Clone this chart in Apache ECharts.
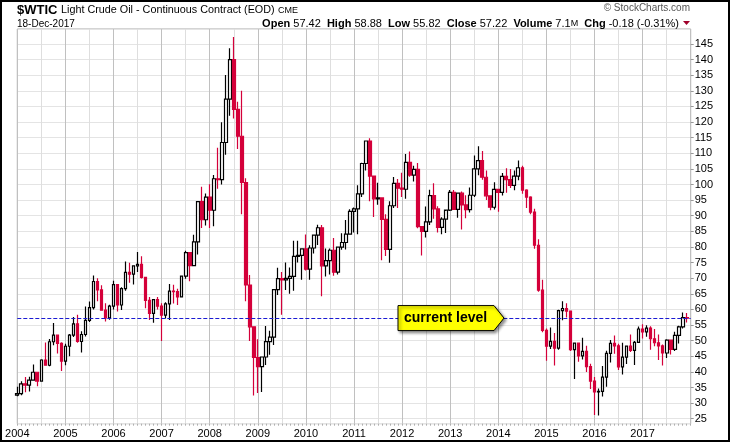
<!DOCTYPE html>
<html><head><meta charset="utf-8">
<script src="https://cdn.jsdelivr.net/npm/echarts@6/dist/echarts.min.js"></script>
<style>html,body{margin:0;padding:0;background:#fff}#c{width:730px;height:442px}</style>
</head><body><div id="c"></div>
<script>
const years = ['2004','2005','2006','2007','2008','2009','2010','2011','2012','2013','2014','2015','2016','2017'];

const opens = [
 32.52,33.05,36.16,35.76,37.38,39.88,37.05,43.80,42.12,49.64,51.76,49.13,
 43.45,48.20,51.75,55.40,49.72,51.97,56.50,60.57,68.94,66.24,59.76,57.32,
 61.04,67.92,61.41,66.63,71.88,71.29,73.93,74.40,70.26,62.91,58.73,63.13,
 61.05,58.14,61.79,65.87,65.71,64.01,70.68,78.21,74.04,81.66,94.53,88.71,
 95.98,91.75,101.84,101.58,113.46,127.35,140.00,124.08,115.46,100.64,67.81,54.43,
 44.60,41.68,44.76,49.66,51.12,66.31,69.89,69.45,69.96,70.61,77.00,77.28,
 79.36,72.89,79.66,83.76,86.15,73.97,75.63,78.95,71.92,79.97,81.43,84.11,
 91.38,92.19,96.97,106.72,113.93,102.70,95.42,95.70,88.81,79.20,93.19,100.36,
 98.83,98.48,107.07,103.02,104.87,86.53,84.96,88.06,96.47,92.19,86.24,88.91,
 91.82,97.49,92.05,97.23,93.46,91.97,96.56,105.03,107.65,102.33,96.38,92.72,
 98.42,97.49,102.59,101.58,99.74,102.71,105.37,98.17,95.96,91.16,80.54,66.15,
 53.27,48.24,49.76,47.60,59.63,60.30,59.47,47.12,49.20,45.09,46.59,41.65,
 37.04,33.62,33.75,38.34,45.92,49.10,48.33,41.60,44.70,48.24,46.86,49.44,
 53.72,52.81,54.01,50.60,49.33,48.32,46.04,50.17,47.23,51.67,54.38,57.40
];
const highs = [
 35.20,37.00,38.35,38.40,42.33,40.00,44.00,49.40,50.50,55.67,52.00,49.50,
 49.00,52.10,57.60,58.28,53.00,60.95,62.50,70.85,70.00,67.75,62.00,61.50,
 69.20,68.10,67.10,75.35,74.95,73.93,78.40,77.00,70.30,64.00,63.20,64.00,
 62.00,62.30,68.10,67.90,66.60,70.70,78.77,78.40,83.90,94.53,99.29,97.10,
 100.09,103.05,111.80,119.93,135.09,143.67,147.27,126.50,130.00,102.00,71.00,54.60,
 50.47,44.80,54.66,53.20,66.45,73.38,72.00,75.00,73.40,82.00,82.00,79.60,
 83.95,80.51,83.85,87.15,87.00,79.50,79.50,82.90,80.00,84.40,88.63,92.06,
 92.60,99.80,106.95,114.00,114.83,102.90,100.60,95.70,90.50,94.65,102.44,101.77,
 103.74,109.77,110.55,106.00,106.90,86.60,92.94,98.29,100.42,93.00,89.50,91.50,
 98.24,98.24,97.35,97.80,96.55,99.06,109.32,112.24,110.74,104.50,96.30,100.75,
 98.60,103.70,105.22,104.99,104.50,107.68,106.00,98.50,96.20,92.20,82.50,69.50,
 53.85,54.24,52.48,59.90,62.58,61.95,59.69,49.30,49.20,50.92,48.36,42.58,
 38.39,34.69,41.90,46.78,50.21,51.67,49.00,49.36,48.35,51.93,49.87,54.51,
 55.24,54.94,54.61,53.76,52.00,48.75,50.43,50.22,52.86,54.77,59.05,58.88
];
const lows = [
 32.20,32.50,33.50,33.75,37.20,35.40,37.00,42.00,41.80,48.50,45.90,40.25,
 42.12,45.00,51.20,49.30,46.20,51.30,56.00,60.00,62.60,59.60,56.10,56.70,
 60.00,59.30,59.80,66.00,68.50,68.00,72.00,69.90,60.40,56.60,55.70,60.00,
 49.90,57.10,56.60,61.90,61.40,63.80,69.80,69.00,73.80,77.60,86.10,86.90,
 86.11,86.60,98.65,100.00,109.50,122.00,121.10,111.34,90.51,62.61,49.90,32.40,
 33.20,33.55,42.20,45.50,48.60,64.60,58.32,66.20,65.05,66.00,75.00,69.50,
 72.43,69.50,77.90,80.60,64.24,70.50,71.20,70.76,71.20,79.10,79.15,84.00,
 84.60,84.10,96.00,104.50,94.63,89.60,93.50,75.71,77.10,74.95,92.50,92.50,
 96.00,95.44,102.50,101.00,86.00,77.28,83.00,87.00,89.00,84.60,84.05,84.50,
 91.50,92.00,89.33,85.61,89.20,91.00,96.00,103.00,101.50,95.00,91.77,92.00,
 91.24,96.50,97.37,98.90,98.20,101.40,97.05,92.50,90.44,79.44,65.69,52.70,
 43.58,47.36,42.03,47.05,56.51,57.42,46.68,37.75,43.21,43.97,39.97,34.53,
 26.19,26.05,32.10,35.24,43.03,45.83,40.57,39.19,42.52,46.38,42.20,49.37,
 50.71,51.22,47.09,48.18,43.76,42.05,44.46,45.58,46.71,49.10,53.85,55.82
];
const closes = [
 33.05,36.16,35.76,37.38,39.88,37.05,43.80,42.12,49.64,51.76,49.13,43.45,
 48.20,51.75,55.40,49.72,51.97,56.50,60.57,68.94,66.24,59.76,57.32,61.04,
 67.92,61.41,66.63,71.88,71.29,73.93,74.40,70.26,62.91,58.73,63.13,61.05,
 58.14,61.79,65.87,65.71,64.01,70.68,78.21,74.04,81.66,94.53,88.71,95.98,
 91.75,101.84,101.58,113.46,127.35,140.00,124.08,115.46,100.64,67.81,54.43,44.60,
 41.68,44.76,49.66,51.12,66.31,69.89,69.45,69.96,70.61,77.00,77.28,79.36,
 72.89,79.66,83.76,86.15,73.97,75.63,78.95,71.92,79.97,81.43,84.11,91.38,
 92.19,96.97,106.72,113.93,102.70,95.42,95.70,88.81,79.20,93.19,100.36,98.83,
 98.48,107.07,103.02,104.87,86.53,84.96,88.06,96.47,92.19,86.24,88.91,91.82,
 97.49,92.05,97.23,93.46,91.97,96.56,105.03,107.65,102.33,96.38,92.72,98.42,
 97.49,102.59,101.58,99.74,102.71,105.37,98.17,95.96,91.16,80.54,66.15,53.27,
 48.24,49.76,47.60,59.63,60.30,59.47,47.12,49.20,45.09,46.59,41.65,37.04,
 33.62,33.75,38.34,45.92,49.10,48.33,41.60,44.70,48.24,46.86,49.44,53.72,
 52.81,54.01,50.60,49.33,48.32,46.04,50.17,47.23,51.67,54.38,57.40,57.22
];

const lastClose = closes[closes.length - 1];
const months = [];
years.forEach(y => { for (let m = 1; m <= 12; m++) months.push(y + '-' + String(m).padStart(2, '0')); });
months.push('2018-01'); // closing edge of the time axis
const candles = opens.map((o, i) => [o, closes[i], lows[i], highs[i]]);

const FONT = 'Liberation Sans, Arial, sans-serif';
const RED = '#d4003a';
const chart = echarts.init(document.getElementById('c'), null, {renderer: 'canvas'});

chart.setOption({
  animation: false,
  backgroundColor: '#fff',
  grid: {left: 17.3, right: 39.3, top: 29, bottom: 18.3, show: true, borderColor: '#a8a8a8', borderWidth: 1, containLabel: false},
  xAxis: {
    type: 'category', data: months, boundaryGap: false,
    axisLine: {show: false},
    axisTick: {show: true, interval: 0, length: 2, lineStyle: {color: '#b0b0b0'}},
    axisLabel: {
      interval: (i) => i % 12 === 0 && i < months.length - 1,
      formatter: (v) => v.slice(0, 4),
      color: '#000', fontSize: 11, fontFamily: FONT, margin: 5
    },
    splitLine: {show: true, interval: (i) => i % 6 === 0, lineStyle: {color: ['#c0c0c0', '#dedede'], width: 1}}
  },
  yAxis: {
    type: 'value', position: 'right', min: 23.4, max: 149.8, splitNumber: 25,
    axisLine: {show: false},
    axisTick: {show: true, length: 3, lineStyle: {color: '#999'}},
    axisLabel: {showMinLabel: false, showMaxLabel: false, color: '#000', fontSize: 11, fontFamily: FONT, margin: 4},
    splitLine: {show: true, lineStyle: {color: '#e4e4e4', width: 1}}
  },
  series: [{
    type: 'candlestick', data: candles, barWidth: 3.2,
    itemStyle: {color: '#ffffff', color0: RED, borderColor: '#000000', borderColor0: RED, borderWidth: 1.2},
    markLine: {
      symbol: 'none', silent: true, label: {show: false},
      lineStyle: {color: '#1a1ad2', type: [4, 2], width: 1},
      data: [{yAxis: lastClose}]
    }
  }],
  graphic: [
    {type: 'rect', id: 'frame', shape: {x: 1, y: 1, width: 728, height: 440}, style: {fill: null, stroke: '#000', lineWidth: 2}, z: 100},
    {type: 'text', id: 't1', x: 17, y: 10, style: {text: '$WTIC', font: 'bold 13px ' + FONT, fill: '#000', verticalAlign: 'middle'}},
    {type: 'text', id: 't2', x: 61, y: 10.5, style: {text: 'Light Crude Oil - Continuous Contract (EOD)', font: '10.8px ' + FONT, fill: '#000', verticalAlign: 'middle'}},
    {type: 'text', id: 't3', x: 278, y: 11, style: {text: 'CME', font: '9px ' + FONT, fill: '#000', verticalAlign: 'middle'}},
    {type: 'text', id: 't4', x: 17, y: 24, style: {text: '18-Dec-2017', font: '10px ' + FONT, fill: '#000', verticalAlign: 'middle'}},
    {type: 'text', id: 't5', x: 690, y: 8, style: {text: '\u00a9 StockCharts.com', font: '10px ' + FONT, fill: '#555', align: 'right', verticalAlign: 'middle'}},
    {type: 'text', id: 't6', x: 679, y: 24, style: {
      text: '{b|Open} 57.42  {b|High} 58.88  {b|Low} 55.82  {b|Close} 57.22  {b|Volume} 7.1{s|M}  {b|Chg} -0.18 (-0.31%)',
      font: '11px ' + FONT, fill: '#000', align: 'right', verticalAlign: 'middle',
      rich: {b: {font: 'bold 11px ' + FONT, fill: '#000'}, s: {font: '9px ' + FONT, fill: '#000'}}
    }},
    {type: 'polygon', id: 'tri', shape: {points: [[683, 21], [690, 21], [686.5, 25]]}, style: {fill: '#a0002a'}}
  ]
});

// callout placed at the current level through the y axis scale
const yc = chart.convertToPixel({yAxisIndex: 0}, lastClose);
chart.setOption({
  graphic: [
    {type: 'polygon', id: 'callout', z: 50,
     shape: {points: [[398, yc - 12.5], [494, yc - 12.5], [504, yc], [494, yc + 12.5], [398, yc + 12.5]]},
     style: {fill: '#ffff00', stroke: '#000', lineWidth: 1, shadowBlur: 3, shadowOffsetX: 2, shadowOffsetY: 2, shadowColor: 'rgba(0,0,0,0.45)'}},
    {type: 'text', id: 'calloutText', z: 51, x: 404, y: yc,
     style: {text: 'current level', font: 'bold 14px ' + FONT, fill: '#000', verticalAlign: 'middle'}}
  ]
});
</script>
</body></html>
